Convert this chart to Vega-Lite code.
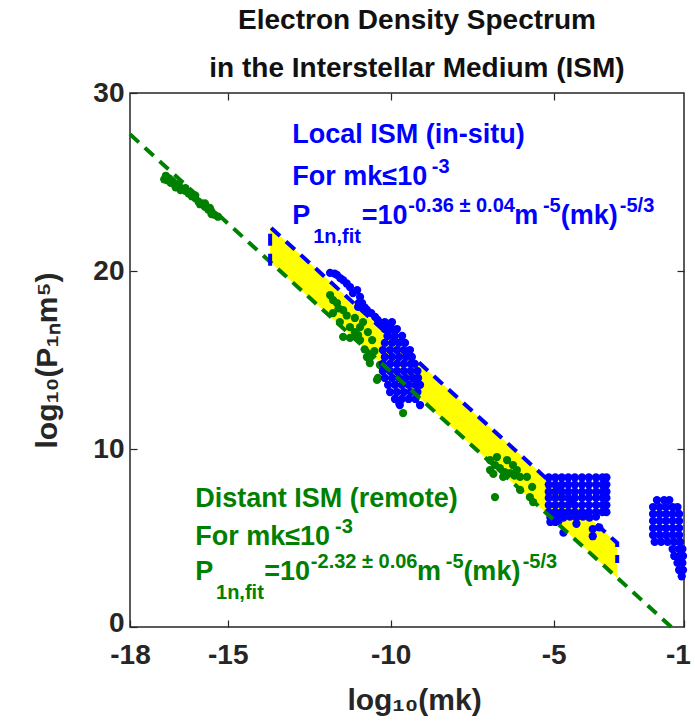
{
  "$schema": "https://vega.github.io/schema/vega-lite/v6.json",
  "width": 554,
  "height": 534,
  "autosize": "none",
  "padding": {"left": 130, "top": 93, "right": 11, "bottom": 101},
  "background": "white",
  "config": {"view": {"stroke": "#262626", "strokeWidth": 1.5}, "font": "Liberation Sans"},
  "title": {
    "text": ["Electron Density Spectrum", "in the Interstellar Medium (ISM)"],
    "fontSize": 28, "fontWeight": "bold", "color": "#111111",
    "anchor": "middle", "offset": -4, "lineHeight": 48, "dx": 10, "font": "Liberation Sans"
  },
  "datasets": {
    "band": [
      {"x": -13.7, "hi": 22.47, "lo": 20.51},
      {"x": -3.05, "hi": 4.72, "lo": 2.76}
    ],
    "lines": [
      {"x": -18, "y": 27.68, "s": "Distant", "o": 1},
      {"x": -1.39, "y": 0, "s": "Distant", "o": 2},
      {"x": -13.7, "y": 20.3, "s": "Local", "o": 1},
      {"x": -13.7, "y": 22.47, "s": "Local", "o": 2},
      {"x": -3.05, "y": 4.72, "s": "Local", "o": 3},
      {"x": -3.05, "y": 3.6, "s": "Local", "o": 4}
    ],
    "pts": [
      {"x": -16.95, "y": 25.15, "s": "Distant"}, {"x": -16.9, "y": 25.35, "s": "Distant"}, {"x": -16.85, "y": 25.1, "s": "Distant"},
      {"x": -16.8, "y": 25.2, "s": "Distant"}, {"x": -16.7, "y": 25.05, "s": "Distant"}, {"x": -16.6, "y": 24.9, "s": "Distant"},
      {"x": -16.5, "y": 24.8, "s": "Distant"}, {"x": -16.4, "y": 24.6, "s": "Distant"}, {"x": -16.3, "y": 24.5, "s": "Distant"},
      {"x": -16.2, "y": 24.35, "s": "Distant"}, {"x": -16.1, "y": 24.2, "s": "Distant"}, {"x": -16.0, "y": 24.1, "s": "Distant"},
      {"x": -15.9, "y": 23.9, "s": "Distant"}, {"x": -15.8, "y": 23.8, "s": "Distant"}, {"x": -15.7, "y": 23.6, "s": "Distant"},
      {"x": -15.6, "y": 23.45, "s": "Distant"}, {"x": -15.5, "y": 23.35, "s": "Distant"}, {"x": -15.4, "y": 23.15, "s": "Distant"},
      {"x": -15.3, "y": 23.05, "s": "Distant"}, {"x": -16.6, "y": 24.7, "s": "Distant"}, {"x": -16.0, "y": 24.25, "s": "Distant"},
      {"x": -15.7, "y": 23.8, "s": "Distant"}, {"x": -16.3, "y": 24.65, "s": "Distant"}, {"x": -15.5, "y": 23.2, "s": "Distant"},
      {"x": -16.75, "y": 24.95, "s": "Distant"}, {"x": -16.45, "y": 24.55, "s": "Distant"}, {"x": -16.15, "y": 24.4, "s": "Distant"},
      {"x": -15.85, "y": 23.75, "s": "Distant"}, {"x": -15.55, "y": 23.55, "s": "Distant"},
      {"x": -11.86, "y": 18.65, "s": "Distant"}, {"x": -11.77, "y": 18.37, "s": "Distant"}, {"x": -11.65, "y": 18.2, "s": "Distant"},
      {"x": -11.77, "y": 17.64, "s": "Distant"}, {"x": -11.46, "y": 17.8, "s": "Distant"}, {"x": -11.56, "y": 17.13, "s": "Distant"},
      {"x": -11.46, "y": 16.3, "s": "Distant"}, {"x": -11.25, "y": 16.85, "s": "Distant"}, {"x": -11.1, "y": 16.57, "s": "Distant"},
      {"x": -11.1, "y": 17.36, "s": "Distant"}, {"x": -10.85, "y": 17.13, "s": "Distant"}, {"x": -11.25, "y": 16.24, "s": "Distant"},
      {"x": -10.94, "y": 16.12, "s": "Distant"}, {"x": -10.94, "y": 16.85, "s": "Distant"}, {"x": -10.7, "y": 16.57, "s": "Distant"},
      {"x": -10.57, "y": 16.12, "s": "Distant"}, {"x": -10.73, "y": 15.17, "s": "Distant"}, {"x": -10.64, "y": 15.11, "s": "Distant"},
      {"x": -10.64, "y": 14.83, "s": "Distant"}, {"x": -10.33, "y": 14.72, "s": "Distant"}, {"x": -10.42, "y": 13.88, "s": "Distant"},
      {"x": -10.39, "y": 13.99, "s": "Distant"}, {"x": -9.75, "y": 12.6, "s": "Distant"}, {"x": -9.62, "y": 12.02, "s": "Distant"},
      {"x": -11.35, "y": 17.5, "s": "Distant"}, {"x": -11.6, "y": 17.9, "s": "Distant"}, {"x": -11.0, "y": 16.4, "s": "Distant"},
      {"x": -10.5, "y": 15.5, "s": "Distant"}, {"x": -10.8, "y": 15.6, "s": "Distant"},
      {"x": -6.95, "y": 9.38, "s": "Distant"}, {"x": -6.74, "y": 9.55, "s": "Distant"}, {"x": -6.43, "y": 9.38, "s": "Distant"},
      {"x": -6.25, "y": 9.1, "s": "Distant"}, {"x": -6.95, "y": 8.82, "s": "Distant"}, {"x": -6.65, "y": 8.93, "s": "Distant"},
      {"x": -6.34, "y": 8.65, "s": "Distant"}, {"x": -6.03, "y": 8.43, "s": "Distant"}, {"x": -5.82, "y": 8.43, "s": "Distant"},
      {"x": -6.55, "y": 8.43, "s": "Distant"}, {"x": -6.13, "y": 8.82, "s": "Distant"}, {"x": -6.8, "y": 7.3, "s": "Distant"},
      {"x": -6.03, "y": 7.7, "s": "Distant"}, {"x": -5.66, "y": 7.87, "s": "Distant"}, {"x": -5.73, "y": 7.3, "s": "Distant"},
      {"x": -5.63, "y": 7.02, "s": "Distant"}, {"x": -6.8, "y": 9.1, "s": "Distant"}, {"x": -6.5, "y": 8.7, "s": "Distant"},
      {"x": -6.85, "y": 8.6, "s": "Distant"}, {"x": -6.2, "y": 8.5, "s": "Distant"},

      {"x": -11.86, "y": 19.89, "s": "Local"}, {"x": -11.72, "y": 19.85, "s": "Local"}, {"x": -11.65, "y": 19.78, "s": "Local"},
      {"x": -11.55, "y": 19.6, "s": "Local"}, {"x": -11.46, "y": 19.49, "s": "Local"}, {"x": -11.35, "y": 19.3, "s": "Local"},
      {"x": -11.25, "y": 19.1, "s": "Local"}, {"x": -11.16, "y": 18.76, "s": "Local"}, {"x": -11.03, "y": 18.93, "s": "Local"},
      {"x": -10.94, "y": 18.54, "s": "Local"}, {"x": -10.98, "y": 18.2, "s": "Local"}, {"x": -11.0, "y": 17.98, "s": "Local"},
      {"x": -10.88, "y": 18.2, "s": "Local"}, {"x": -10.8, "y": 17.95, "s": "Local"}, {"x": -10.73, "y": 17.81, "s": "Local"},
      {"x": -10.6, "y": 17.64, "s": "Local"}, {"x": -10.48, "y": 17.42, "s": "Local"}, {"x": -10.4, "y": 17.25, "s": "Local"},
      {"x": -10.33, "y": 17.08, "s": "Local"}, {"x": -10.18, "y": 16.97, "s": "Local"}, {"x": -10.1, "y": 16.8, "s": "Local"},
      {"x": -10.02, "y": 16.69, "s": "Local"},
      {"x": -10.18, "y": 17.13, "s": "Local"}, {"x": -9.96, "y": 17.13, "s": "Local"},
      {"x": -10.18, "y": 16.74, "s": "Local"}, {"x": -9.96, "y": 16.74, "s": "Local"}, {"x": -9.81, "y": 16.74, "s": "Local"},
      {"x": -10.1, "y": 16.35, "s": "Local"}, {"x": -9.87, "y": 16.35, "s": "Local"}, {"x": -9.65, "y": 16.35, "s": "Local"},
      {"x": -10.18, "y": 15.96, "s": "Local"}, {"x": -9.96, "y": 15.96, "s": "Local"}, {"x": -9.75, "y": 15.96, "s": "Local"}, {"x": -9.56, "y": 15.96, "s": "Local"},
      {"x": -10.24, "y": 15.56, "s": "Local"}, {"x": -10.02, "y": 15.56, "s": "Local"}, {"x": -9.81, "y": 15.56, "s": "Local"}, {"x": -9.6, "y": 15.56, "s": "Local"}, {"x": -9.41, "y": 15.56, "s": "Local"},
      {"x": -10.18, "y": 15.17, "s": "Local"}, {"x": -9.96, "y": 15.17, "s": "Local"}, {"x": -9.75, "y": 15.17, "s": "Local"}, {"x": -9.54, "y": 15.17, "s": "Local"}, {"x": -9.35, "y": 15.17, "s": "Local"},
      {"x": -10.24, "y": 14.78, "s": "Local"}, {"x": -10.02, "y": 14.78, "s": "Local"}, {"x": -9.81, "y": 14.78, "s": "Local"}, {"x": -9.6, "y": 14.78, "s": "Local"}, {"x": -9.39, "y": 14.78, "s": "Local"}, {"x": -9.26, "y": 14.78, "s": "Local"},
      {"x": -10.24, "y": 14.38, "s": "Local"}, {"x": -10.02, "y": 14.38, "s": "Local"}, {"x": -9.81, "y": 14.38, "s": "Local"}, {"x": -9.6, "y": 14.38, "s": "Local"}, {"x": -9.39, "y": 14.38, "s": "Local"}, {"x": -9.18, "y": 14.38, "s": "Local"},
      {"x": -10.18, "y": 13.99, "s": "Local"}, {"x": -9.96, "y": 13.99, "s": "Local"}, {"x": -9.75, "y": 13.99, "s": "Local"}, {"x": -9.54, "y": 13.99, "s": "Local"}, {"x": -9.33, "y": 13.99, "s": "Local"}, {"x": -9.16, "y": 13.99, "s": "Local"},
      {"x": -10.08, "y": 13.6, "s": "Local"}, {"x": -9.87, "y": 13.6, "s": "Local"}, {"x": -9.66, "y": 13.6, "s": "Local"}, {"x": -9.45, "y": 13.6, "s": "Local"}, {"x": -9.24, "y": 13.6, "s": "Local"}, {"x": -9.1, "y": 13.6, "s": "Local"},
      {"x": -10.02, "y": 13.2, "s": "Local"}, {"x": -9.81, "y": 13.2, "s": "Local"}, {"x": -9.6, "y": 13.2, "s": "Local"}, {"x": -9.39, "y": 13.2, "s": "Local"}, {"x": -9.18, "y": 13.2, "s": "Local"},
      {"x": -9.87, "y": 12.81, "s": "Local"}, {"x": -9.66, "y": 12.81, "s": "Local"}, {"x": -9.45, "y": 12.81, "s": "Local"}, {"x": -9.24, "y": 12.81, "s": "Local"},
      {"x": -9.72, "y": 12.47, "s": "Local"}, {"x": -9.1, "y": 12.47, "s": "Local"},

      {"x": -5.15, "y": 8.4, "s": "Local"}, {"x": -4.95, "y": 8.4, "s": "Local"}, {"x": -4.75, "y": 8.4, "s": "Local"}, {"x": -4.55, "y": 8.4, "s": "Local"}, {"x": -4.35, "y": 8.4, "s": "Local"}, {"x": -4.13, "y": 8.4, "s": "Local"}, {"x": -3.92, "y": 8.4, "s": "Local"}, {"x": -3.7, "y": 8.4, "s": "Local"}, {"x": -3.5, "y": 8.4, "s": "Local"}, {"x": -3.38, "y": 8.4, "s": "Local"},
      {"x": -5.15, "y": 8.0, "s": "Local"}, {"x": -4.95, "y": 8.0, "s": "Local"}, {"x": -4.75, "y": 8.0, "s": "Local"}, {"x": -4.55, "y": 8.0, "s": "Local"}, {"x": -4.35, "y": 8.0, "s": "Local"}, {"x": -4.13, "y": 8.0, "s": "Local"}, {"x": -3.92, "y": 8.0, "s": "Local"}, {"x": -3.7, "y": 8.0, "s": "Local"}, {"x": -3.5, "y": 8.0, "s": "Local"}, {"x": -3.38, "y": 8.0, "s": "Local"},
      {"x": -5.15, "y": 7.6, "s": "Local"}, {"x": -4.95, "y": 7.6, "s": "Local"}, {"x": -4.75, "y": 7.6, "s": "Local"}, {"x": -4.55, "y": 7.6, "s": "Local"}, {"x": -4.35, "y": 7.6, "s": "Local"}, {"x": -4.13, "y": 7.6, "s": "Local"}, {"x": -3.92, "y": 7.6, "s": "Local"}, {"x": -3.7, "y": 7.6, "s": "Local"}, {"x": -3.5, "y": 7.6, "s": "Local"}, {"x": -3.38, "y": 7.6, "s": "Local"},
      {"x": -5.15, "y": 7.25, "s": "Local"}, {"x": -4.95, "y": 7.25, "s": "Local"}, {"x": -4.75, "y": 7.25, "s": "Local"}, {"x": -4.55, "y": 7.25, "s": "Local"}, {"x": -4.35, "y": 7.25, "s": "Local"}, {"x": -4.13, "y": 7.25, "s": "Local"}, {"x": -3.92, "y": 7.25, "s": "Local"}, {"x": -3.7, "y": 7.25, "s": "Local"}, {"x": -3.5, "y": 7.25, "s": "Local"}, {"x": -3.38, "y": 7.25, "s": "Local"},
      {"x": -5.15, "y": 6.85, "s": "Local"}, {"x": -4.95, "y": 6.85, "s": "Local"}, {"x": -4.75, "y": 6.85, "s": "Local"}, {"x": -4.55, "y": 6.85, "s": "Local"}, {"x": -4.35, "y": 6.85, "s": "Local"}, {"x": -4.13, "y": 6.85, "s": "Local"}, {"x": -3.92, "y": 6.85, "s": "Local"}, {"x": -3.7, "y": 6.85, "s": "Local"}, {"x": -3.5, "y": 6.85, "s": "Local"}, {"x": -3.38, "y": 6.85, "s": "Local"},
      {"x": -5.15, "y": 6.45, "s": "Local"}, {"x": -4.95, "y": 6.45, "s": "Local"}, {"x": -4.75, "y": 6.45, "s": "Local"}, {"x": -4.55, "y": 6.45, "s": "Local"}, {"x": -4.35, "y": 6.45, "s": "Local"}, {"x": -4.13, "y": 6.45, "s": "Local"}, {"x": -3.92, "y": 6.45, "s": "Local"}, {"x": -3.7, "y": 6.45, "s": "Local"}, {"x": -3.5, "y": 6.45, "s": "Local"}, {"x": -3.38, "y": 6.45, "s": "Local"},
      {"x": -5.1, "y": 6.15, "s": "Local"}, {"x": -4.9, "y": 6.15, "s": "Local"}, {"x": -4.7, "y": 6.15, "s": "Local"}, {"x": -4.5, "y": 6.2, "s": "Local"}, {"x": -4.3, "y": 6.15, "s": "Local"}, {"x": -4.1, "y": 6.2, "s": "Local"}, {"x": -3.9, "y": 6.15, "s": "Local"}, {"x": -3.7, "y": 6.2, "s": "Local"},
      {"x": -5.1, "y": 5.9, "s": "Local"}, {"x": -4.85, "y": 5.95, "s": "Local"}, {"x": -4.7, "y": 5.3, "s": "Local"}, {"x": -4.3, "y": 5.8, "s": "Local"},
      {"x": -3.8, "y": 5.5, "s": "Local"}, {"x": -3.8, "y": 5.1, "s": "Local"}, {"x": -3.6, "y": 5.6, "s": "Local"}, {"x": -4.95, "y": 5.9, "s": "Local"},

      {"x": -1.83, "y": 7.13, "s": "Local"}, {"x": -1.61, "y": 7.13, "s": "Local"}, {"x": -1.45, "y": 7.13, "s": "Local"},
      {"x": -1.95, "y": 6.74, "s": "Local"}, {"x": -1.75, "y": 6.74, "s": "Local"}, {"x": -1.55, "y": 6.74, "s": "Local"}, {"x": -1.35, "y": 6.74, "s": "Local"}, {"x": -1.2, "y": 6.74, "s": "Local"},
      {"x": -1.95, "y": 6.35, "s": "Local"}, {"x": -1.75, "y": 6.35, "s": "Local"}, {"x": -1.55, "y": 6.35, "s": "Local"}, {"x": -1.35, "y": 6.35, "s": "Local"}, {"x": -1.15, "y": 6.35, "s": "Local"},
      {"x": -1.95, "y": 5.96, "s": "Local"}, {"x": -1.75, "y": 5.96, "s": "Local"}, {"x": -1.55, "y": 5.96, "s": "Local"}, {"x": -1.35, "y": 5.96, "s": "Local"}, {"x": -1.15, "y": 5.96, "s": "Local"},
      {"x": -1.95, "y": 5.56, "s": "Local"}, {"x": -1.75, "y": 5.56, "s": "Local"}, {"x": -1.55, "y": 5.56, "s": "Local"}, {"x": -1.35, "y": 5.56, "s": "Local"}, {"x": -1.15, "y": 5.56, "s": "Local"},
      {"x": -1.95, "y": 5.17, "s": "Local"}, {"x": -1.75, "y": 5.17, "s": "Local"}, {"x": -1.55, "y": 5.17, "s": "Local"}, {"x": -1.35, "y": 5.17, "s": "Local"}, {"x": -1.15, "y": 5.17, "s": "Local"},
      {"x": -1.9, "y": 4.78, "s": "Local"}, {"x": -1.7, "y": 4.78, "s": "Local"}, {"x": -1.5, "y": 4.78, "s": "Local"}, {"x": -1.3, "y": 4.78, "s": "Local"}, {"x": -1.12, "y": 4.78, "s": "Local"},
      {"x": -1.35, "y": 4.38, "s": "Local"}, {"x": -1.15, "y": 4.38, "s": "Local"}, {"x": -1.05, "y": 4.38, "s": "Local"},
      {"x": -1.3, "y": 3.99, "s": "Local"}, {"x": -1.12, "y": 3.99, "s": "Local"}, {"x": -1.03, "y": 3.99, "s": "Local"},
      {"x": -1.2, "y": 3.6, "s": "Local"}, {"x": -1.05, "y": 3.6, "s": "Local"},
      {"x": -1.15, "y": 3.2, "s": "Local"}, {"x": -1.03, "y": 3.2, "s": "Local"},
      {"x": -1.07, "y": 2.85, "s": "Local"}
    ],
    "ann": [
      {"x": -13.02, "y": 27.19, "t": "Local ISM (in-situ)", "s": "Local", "k": "main"},
      {"x": -13.02, "y": 24.83, "t": "For mk≤10", "s": "Local", "k": "main"},
      {"x": -8.74, "y": 25.5, "t": "-3", "s": "Local", "k": "small"},
      {"x": -13.02, "y": 22.64, "t": "P", "s": "Local", "k": "main"},
      {"x": -12.38, "y": 21.55, "t": "1n,fit", "s": "Local", "k": "small"},
      {"x": -10.89, "y": 22.64, "t": "=10", "s": "Local", "k": "main"},
      {"x": -9.46, "y": 23.31, "t": "-0.36 ± 0.04", "s": "Local", "k": "small"},
      {"x": -6.21, "y": 22.64, "t": "m", "s": "Local", "k": "main"},
      {"x": -5.33, "y": 23.31, "t": "-5", "s": "Local", "k": "small"},
      {"x": -4.78, "y": 22.64, "t": "(mk)", "s": "Local", "k": "main"},
      {"x": -2.97, "y": 23.31, "t": "-5/3", "s": "Local", "k": "small"},
      {"x": -16.0, "y": 6.74, "t": "Distant ISM (remote)", "s": "Distant", "k": "main"},
      {"x": -16.0, "y": 4.61, "t": "For mk≤10", "s": "Distant", "k": "main"},
      {"x": -11.71, "y": 5.3, "t": "-3", "s": "Distant", "k": "small"},
      {"x": -16.0, "y": 2.64, "t": "P", "s": "Distant", "k": "main"},
      {"x": -15.36, "y": 1.55, "t": "1n,fit", "s": "Distant", "k": "small"},
      {"x": -13.88, "y": 2.64, "t": "=10", "s": "Distant", "k": "main"},
      {"x": -12.45, "y": 3.31, "t": "-2.32 ± 0.06", "s": "Distant", "k": "small"},
      {"x": -9.19, "y": 2.64, "t": "m", "s": "Distant", "k": "main"},
      {"x": -8.31, "y": 3.31, "t": "-5", "s": "Distant", "k": "small"},
      {"x": -7.77, "y": 2.64, "t": "(mk)", "s": "Distant", "k": "main"},
      {"x": -5.95, "y": 3.31, "t": "-5/3", "s": "Distant", "k": "small"}
    ]
  },
  "layer": [
    {
      "data": {"name": "band"},
      "mark": {"type": "area", "color": "#ffff00", "opacity": 1},
      "encoding": {
        "x": {"field": "x", "type": "quantitative",
              "scale": {"domain": [-18, -1], "nice": false, "zero": false},
              "axis": {"orient": "top", "values": [-15, -10, -5], "labels": false, "domain": false, "grid": false,
                       "tickSize": -7, "tickColor": "#262626", "tickWidth": 1.2, "title": null}},
        "y": {"field": "hi", "type": "quantitative",
              "scale": {"domain": [0, 30], "nice": false, "zero": false},
              "axis": {"orient": "right", "values": [10, 20], "labels": false, "domain": false, "grid": false,
                       "tickSize": -7, "tickColor": "#262626", "tickWidth": 1.2, "title": null}},
        "y2": {"field": "lo"}
      }
    },
    {
      "data": {"name": "pts"},
      "mark": {"type": "circle", "size": 68, "opacity": 1},
      "encoding": {
        "x": {"field": "x", "type": "quantitative",
              "scale": {"domain": [-18, -1], "nice": false, "zero": false},
              "axis": {"orient": "bottom", "values": [-18, -15, -10, -5, -1], "labelExpr": "'' + datum.value",
                       "labelFontSize": 28, "labelFontWeight": "bold", "labelColor": "#262626", "labelFont": "Liberation Sans",
                       "labelPadding": 21, "labelFlush": false, "labelOverlap": false, "labelBound": false,
                       "labelOffset": {"condition": {"test": "datum.value == -1", "value": -6}, "value": 0},
                       "domain": false, "grid": false, "tickSize": -7, "tickColor": "#262626", "tickWidth": 1.2,
                       "title": "log₁₀(mk)", "titleFontSize": 30, "titleFontWeight": "bold", "titleColor": "#262626",
                       "titleFont": "Liberation Sans", "titlePadding": 16, "titleX": 284}},
        "y": {"field": "y", "type": "quantitative",
              "scale": {"domain": [0, 30], "nice": false, "zero": false},
              "axis": {"orient": "left", "values": [0, 10, 20, 30], "labelExpr": "'' + datum.value",
                       "labelFontSize": 28, "labelFontWeight": "bold", "labelColor": "#262626", "labelFont": "Liberation Sans",
                       "labelPadding": 13, "labelOverlap": false, "labelFlush": false, "labelBound": false,
                       "labelOffset": {"condition": {"test": "datum.value == 0", "value": -4}, "value": 0},
                       "domain": false, "grid": false, "tickSize": -7, "tickColor": "#262626", "tickWidth": 1.2,
                       "title": "log₁₀(P₁ₙm⁵)", "titleFontSize": 30, "titleFontWeight": "bold", "titleColor": "#262626",
                       "titleFont": "Liberation Sans", "titlePadding": 30}},
        "color": {"field": "s", "type": "nominal",
                  "scale": {"domain": ["Distant", "Local"], "range": ["#008000", "#0000ff"]}, "legend": null}
      }
    },
    {
      "data": {"name": "lines"},
      "mark": {"type": "line", "strokeDash": [12, 8], "strokeWidth": 4},
      "encoding": {
        "x": {"field": "x", "type": "quantitative", "scale": {"domain": [-18, -1], "nice": false, "zero": false}, "axis": null},
        "y": {"field": "y", "type": "quantitative", "scale": {"domain": [0, 30], "nice": false, "zero": false}, "axis": null},
        "order": {"field": "o", "type": "quantitative"},
        "color": {"field": "s", "type": "nominal",
                  "scale": {"domain": ["Distant", "Local"], "range": ["#008000", "#0000ff"]}, "legend": null}
      }
    },
    {
      "data": {"name": "ann"},
      "transform": [{"filter": "datum.k == 'main'"}],
      "mark": {"type": "text", "align": "left", "baseline": "alphabetic", "fontSize": 27, "fontWeight": "bold", "font": "Liberation Sans"},
      "encoding": {
        "x": {"field": "x", "type": "quantitative", "scale": {"domain": [-18, -1], "nice": false, "zero": false}, "axis": null},
        "y": {"field": "y", "type": "quantitative", "scale": {"domain": [0, 30], "nice": false, "zero": false}, "axis": null},
        "text": {"field": "t"},
        "color": {"field": "s", "type": "nominal",
                  "scale": {"domain": ["Distant", "Local"], "range": ["#008000", "#0000ff"]}, "legend": null}
      }
    },
    {
      "data": {"name": "ann"},
      "transform": [{"filter": "datum.k == 'small'"}],
      "mark": {"type": "text", "align": "left", "baseline": "alphabetic", "fontSize": 20, "fontWeight": "bold", "font": "Liberation Sans"},
      "encoding": {
        "x": {"field": "x", "type": "quantitative", "scale": {"domain": [-18, -1], "nice": false, "zero": false}, "axis": null},
        "y": {"field": "y", "type": "quantitative", "scale": {"domain": [0, 30], "nice": false, "zero": false}, "axis": null},
        "text": {"field": "t"},
        "color": {"field": "s", "type": "nominal",
                  "scale": {"domain": ["Distant", "Local"], "range": ["#008000", "#0000ff"]}, "legend": null}
      }
    }
  ],
  "resolve": {"axis": {"x": "independent", "y": "independent"}}
}
